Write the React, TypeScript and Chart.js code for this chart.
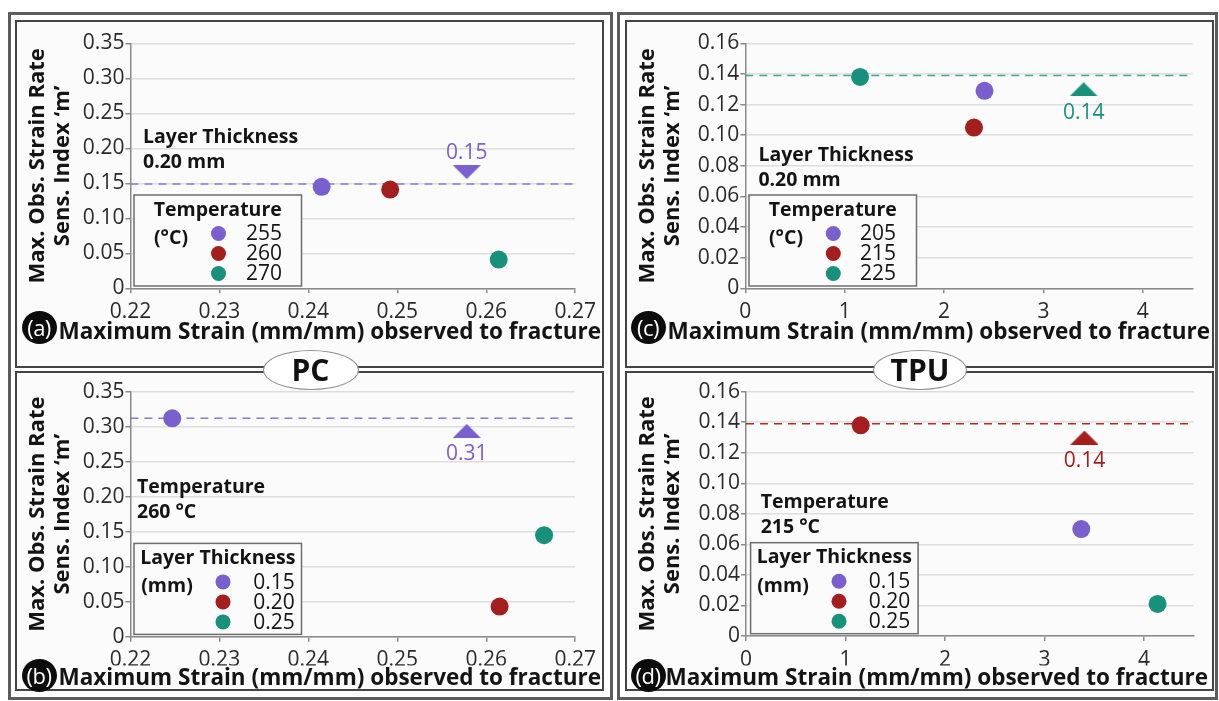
import React, { useEffect, useRef } from "react";
import { Chart, registerables } from "chart.js";

Chart.register(...registerables);

// ---------------- data ----------------
// (a) PC, layer thickness 0.20 mm — series: printing temperature (°C)
const aSeries = ["255", "260", "270"];
const aStrain = [0.2415, 0.2492, 0.2614];
const aM = [0.145, 0.141, 0.041];
const aMeanM = 0.149;
const aMarker = [0.2578, 0.166];
const aMarkerText = "0.15";

// (b) PC, temperature 260 °C — series: layer thickness (mm)
const bSeries = ["0.15", "0.20", "0.25"];
const bStrain = [0.2247, 0.2615, 0.2665];
const bM = [0.312, 0.043, 0.145];
const bMeanM = 0.312;
const bMarker = [0.2578, 0.294];
const bMarkerText = "0.31";

// (c) TPU, layer thickness 0.20 mm — series: printing temperature (°C)
const cSeries = ["205", "215", "225"];
const cStrain = [2.407, 2.301, 1.155];
const cM = [0.129, 0.105, 0.138];
const cMeanM = 0.139;
const cMarker = [3.405, 0.13];
const cMarkerText = "0.14";

// (d) TPU, temperature 215 °C — series: layer thickness (mm)
const dSeries = ["0.15", "0.20", "0.25"];
const dStrain = [3.37, 1.153, 4.137];
const dM = [0.07, 0.138, 0.021];
const dMeanM = 0.139;
const dMarker = [3.402, 0.13];
const dMarkerText = "0.14";

// axis ranges [min, max, step]
const pcXRange = [0.22, 0.27, 0.01];
const pcYRange = [0, 0.35, 0.05];
const tpuXRange = [0, 4.5, 1];
const tpuYRange = [0, 0.16, 0.02];

const xTitle = "Maximum Strain (mm/mm) observed to fracture";
const yTitle = ["Max. Obs. Strain Rate", "Sens. Index \u2018m\u2019"];

// ---------------- styles ----------------
const FONT = "'Open Sans', 'DejaVu Sans', sans-serif";
const BG = "#fbfbfb";
const PURPLE = "#7a5fcf";
const RED = "#a41e1e";
const TEAL = "#17917b";
const SERIES_COLORS = [PURPLE, RED, TEAL];
const LINE_PURPLE = "#8a78dc";
const LINE_RED = "#b02c2c";
const LINE_TEAL = "#3fa68f";
const TEXT = "#141414";

function triangleImage(color: string, down: boolean) {
  const c = document.createElement("canvas");
  c.width = 28;
  c.height = 14;
  const g = c.getContext("2d")!;
  g.fillStyle = color;
  g.beginPath();
  if (down) {
    g.moveTo(0, 0);
    g.lineTo(28, 0);
    g.lineTo(14, 14);
  } else {
    g.moveTo(14, 0);
    g.lineTo(28, 14);
    g.lineTo(0, 14);
  }
  g.closePath();
  g.fill();
  return c;
}

type Panel = {
  key: string;
  badge: string;
  cx: number;
  cy: number;
  cw: number;
  ch: number;
  series: string[];
  strain: number[];
  m: number[];
  meanM: number;
  meanColor: string;
  marker: number[];
  markerDown: boolean;
  markerColor: string;
  markerText: string;
  markerDy: number;
  xr: number[];
  yr: number[];
  note: string[];
  noteDx: number;
  noteDy: number;
  legendTitle: string;
  legendUnit: string;
  lg: { dx: number; unitDx: number; pointDx: number; labelDx: number };
  pad: { top: number; right: number; bottom: number };
  yW: number;
  yRW: number;
  xH: number;
  badgeX: number;
  badgeY: number;
};

const panels: Panel[] = [
  {
    key: "a", badge: "(a)", cx: 17, cy: 22, cw: 585, ch: 344,
    series: aSeries, strain: aStrain, m: aM, meanM: aMeanM, meanColor: LINE_PURPLE,
    marker: aMarker, markerDown: true, markerColor: PURPLE, markerText: aMarkerText, markerDy: -20,
    xr: pcXRange, yr: pcYRange,
    note: ["Layer Thickness", "0.20 mm"], noteDx: 12.6, noteDy: 94.5,
    legendTitle: "Temperature", legendUnit: "(\u00B0C)",
    lg: { dx: 3.6, unitDx: 37, pointDx: 84.5, labelDx: 130 },
    pad: { top: 21.3, right: 1, bottom: 19.5 }, yW: 113.4, yRW: 23, xH: 31.2,
    badgeX: 39, badgeY: 327,
  },
  {
    key: "b", badge: "(b)", cx: 17, cy: 373, cw: 585, ch: 322,
    series: bSeries, strain: bStrain, m: bM, meanM: bMeanM, meanColor: LINE_PURPLE,
    marker: bMarker, markerDown: false, markerColor: PURPLE, markerText: bMarkerText, markerDy: 22.6,
    xr: pcXRange, yr: pcYRange,
    note: ["Temperature", "260 \u00B0C"], noteDx: 6.6, noteDy: 96,
    legendTitle: "Layer Thickness", legendUnit: "(mm)",
    lg: { dx: 3.6, unitDx: 33, pointDx: 89, labelDx: 140 },
    pad: { top: 18.7, right: 1, bottom: 2.5 }, yW: 113.4, yRW: 23, xH: 28.8,
    badgeX: 39, badgeY: 675,
  },
  {
    key: "c", badge: "(c)", cx: 627, cy: 22, cw: 585, ch: 344,
    series: cSeries, strain: cStrain, m: cM, meanM: cMeanM, meanColor: LINE_TEAL,
    marker: cMarker, markerDown: false, markerColor: TEAL, markerText: cMarkerText, markerDy: 23,
    xr: tpuXRange, yr: tpuYRange,
    note: ["Layer Thickness", "0.20 mm"], noteDx: 13.1, noteDy: 112.5,
    legendTitle: "Temperature", legendUnit: "(\u00B0C)",
    lg: { dx: 3.7, unitDx: 37, pointDx: 84.3, labelDx: 129 },
    pad: { top: 21.3, right: 2, bottom: 19.5 }, yW: 118.3, yRW: 17.5, xH: 31.2,
    badgeX: 648, badgeY: 327,
  },
  {
    key: "d", badge: "(d)", cx: 627, cy: 373, cw: 585, ch: 322,
    series: dSeries, strain: dStrain, m: dM, meanM: dMeanM, meanColor: LINE_RED,
    marker: dMarker, markerDown: false, markerColor: RED, markerText: dMarkerText, markerDy: 22.3,
    xr: tpuXRange, yr: tpuYRange,
    note: ["Temperature", "215 \u00B0C"], noteDx: 14.7, noteDy: 111,
    legendTitle: "Layer Thickness", legendUnit: "(mm)",
    lg: { dx: 4.6, unitDx: 32.4, pointDx: 88.4, labelDx: 139 },
    pad: { top: 18.7, right: 4, bottom: 2.5 }, yW: 119, yRW: 14.3, xH: 29.5,
    badgeX: 648, badgeY: 675,
  },
];

const decorPlugin = {
  id: "panelDecor",
  afterDatasetsDraw(chart: any, _args: any, opts: any) {
    const { ctx, chartArea: ca } = chart;
    ctx.save();
    // annotation
    ctx.fillStyle = TEXT;
    ctx.font = `bold 19.5px ${FONT}`;
    ctx.textAlign = "left";
    ctx.textBaseline = "middle";
    (opts.note as string[]).forEach((line, i) => {
      ctx.fillText(line, ca.left + opts.noteDx, ca.top + opts.noteDy + i * 25);
    });
    // legend box
    const bw = 167.5;
    const bh = 91;
    const bx = ca.left + opts.lg.dx;
    const by = ca.bottom - 2.3 - bh;
    ctx.fillStyle = BG;
    ctx.fillRect(bx, by, bw, bh);
    ctx.strokeStyle = "#6e6e6e";
    ctx.lineWidth = 1.5;
    ctx.strokeRect(bx, by, bw, bh);
    ctx.fillStyle = TEXT;
    ctx.font = `bold 19.5px ${FONT}`;
    ctx.textAlign = "center";
    ctx.fillText(opts.legendTitle, bx + bw / 2, by + 15);
    ctx.fillText(opts.legendUnit, bx + opts.lg.unitDx, by + 43.5);
    for (let i = 0; i < 3; i++) {
      const ds = chart.data.datasets[i];
      const yy = by + 38.5 + 20 * i;
      ctx.fillStyle = ds.backgroundColor;
      ctx.beginPath();
      ctx.arc(bx + opts.lg.pointDx, yy, 7.5, 0, Math.PI * 2);
      ctx.fill();
      ctx.fillStyle = TEXT;
      ctx.font = `21px ${FONT}`;
      ctx.fillText(ds.label, bx + opts.lg.labelDx, yy + 1);
    }
    // marker value label
    const meta = chart.getDatasetMeta(4);
    const pt = meta.data[0];
    if (pt) {
      ctx.fillStyle = opts.markerColor;
      ctx.font = `21px ${FONT}`;
      ctx.textAlign = "center";
      ctx.fillText(opts.markerText, pt.x, pt.y + opts.markerDy + 1);
    }
    ctx.restore();
  },
};

function fmt(v: number) {
  return v === 0 ? "0" : Number(v).toFixed(2);
}

function buildConfig(p: Panel): any {
  const datasets: any[] = p.series.map((label, i) => ({
    label,
    data: [{ x: p.strain[i], y: p.m[i] }],
    backgroundColor: SERIES_COLORS[i],
    borderWidth: 0,
    pointRadius: 9,
    pointHoverRadius: 9,
    order: 1,
  }));
  datasets.push({
    label: "mean",
    data: [
      { x: p.xr[0], y: p.meanM },
      { x: p.xr[1], y: p.meanM },
    ],
    showLine: true,
    borderColor: p.meanColor,
    borderDash: [8, 6],
    borderWidth: 1.6,
    pointRadius: 0,
    order: 5,
  });
  datasets.push({
    label: "mean marker",
    data: [{ x: p.marker[0], y: p.marker[1] }],
    pointStyle: triangleImage(p.markerColor, p.markerDown),
    pointRadius: 14,
    order: 0,
  });
  const isPC = p.xr[1] < 1;
  return {
    type: "scatter",
    data: { datasets },
    plugins: [decorPlugin],
    options: {
      responsive: false,
      maintainAspectRatio: false,
      animation: false,
      events: [],
      layout: { padding: { left: 0, top: p.pad.top, right: p.pad.right, bottom: p.pad.bottom } },
      scales: {
        x: {
          type: "linear",
          min: p.xr[0],
          max: p.xr[1],
          ticks: {
            stepSize: p.xr[2],
            includeBounds: false,
            autoSkip: false,
            maxRotation: 0,
            padding: 6,
            color: "#2a2a2a",
            font: { family: FONT, size: 21 },
            callback: (v: number) => (isPC ? Number(v).toFixed(2) : String(Math.round(v))),
          },
          grid: { drawOnChartArea: false, drawTicks: true, tickLength: 5, tickColor: "#8a8a8a", lineWidth: 1.5 },
          border: { color: "#8a8a8a", width: 1.5 },
          afterFit: (s: any) => {
            s.height = p.xH;
          },
        },
        y: {
          type: "linear",
          min: p.yr[0],
          max: p.yr[1],
          ticks: {
            stepSize: p.yr[2],
            padding: 1,
            color: "#2a2a2a",
            font: { family: FONT, size: 21 },
            callback: (v: number) => fmt(v),
          },
          grid: { color: "#dedede", lineWidth: 1.5, tickLength: 5, tickColor: "#8a8a8a" },
          border: { color: "#8a8a8a", width: 1.5 },
          title: {
            display: true,
            text: yTitle,
            color: TEXT,
            font: { family: FONT, size: 22, weight: "bold", lineHeight: 25 / 22 },
            padding: { top: 8.5, bottom: 0 },
          },
          afterFit: (s: any) => {
            s.width = p.yW;
          },
        },
        yR: {
          type: "linear",
          position: "right",
          display: true,
          grid: { display: false, drawTicks: false },
          ticks: { display: false },
          border: { display: false },
          afterFit: (s: any) => {
            s.width = p.yRW;
          },
        },
      },
      plugins: {
        legend: { display: false },
        tooltip: { enabled: false },
        title: {
          display: true,
          position: "bottom",
          align: "end",
          text: xTitle,
          color: TEXT,
          padding: 0,
          font: { family: FONT, size: 22.5, weight: "bold", lineHeight: 1.2 },
        },
        panelDecor: {
          note: p.note,
          noteDx: p.noteDx,
          noteDy: p.noteDy,
          legendTitle: p.legendTitle,
          legendUnit: p.legendUnit,
          lg: p.lg,
          markerColor: p.markerColor,
          markerText: p.markerText,
          markerDy: p.markerDy,
        },
      },
    },
  };
}

function ChartPanel({ p }: { p: Panel }) {
  const ref = useRef<HTMLCanvasElement>(null);
  useEffect(() => {
    const chart = new Chart(ref.current!, buildConfig(p));
    return () => chart.destroy();
  }, []);
  return (
    <canvas
      ref={ref}
      width={p.cw}
      height={p.ch}
      style={{ position: "absolute", left: p.cx, top: p.cy, width: p.cw, height: p.ch }}
    />
  );
}

function Badge({ text, x, y }: { text: string; x: number; y: number }) {
  return (
    <div
      style={{
        position: "absolute",
        left: x - 17.5,
        top: y - 16.5,
        width: 35,
        height: 33,
        borderRadius: "50%",
        background: "#0c0c0c",
        color: "#ffffff",
        fontFamily: FONT,
        fontSize: 22,
        lineHeight: "32px",
        textAlign: "center",
        letterSpacing: -0.5,
      }}
    >
      {text}
    </div>
  );
}

function Oval({ text, x, y, w }: { text: string; x: number; y: number; w: number }) {
  return (
    <div
      style={{
        position: "absolute",
        left: x - w / 2,
        top: y - 20,
        width: w,
        height: 40,
        boxSizing: "border-box",
        borderRadius: "50%",
        border: "1.2px solid #8f8f8f",
        background: "#ffffff",
        color: "#111",
        fontFamily: FONT,
        fontWeight: 700,
        fontSize: 30,
        lineHeight: "38px",
        textAlign: "center",
      }}
    >
      {text}
    </div>
  );
}

const box = (left: number, top: number, width: number, height: number, border: string, bg: string) => ({
  position: "absolute" as const,
  left,
  top,
  width,
  height,
  boxSizing: "border-box" as const,
  border,
  background: bg,
});

export default function App() {
  return (
    <div
      style={{
        position: "fixed",
        left: 0,
        top: 0,
        width: 1219,
        height: 701,
        background: "#ffffff",
        overflow: "hidden",
      }}
    >
      <div style={box(8, 12, 605, 688, "3px solid #5c5c5c", "#ffffff")} />
      <div style={box(617, 12, 601, 688, "3px solid #5c5c5c", "#ffffff")} />
      <div style={box(15, 20, 589, 348, "2px solid #444", BG)} />
      <div style={box(15, 371, 589, 320, "2px solid #444", BG)} />
      <div style={box(625, 20, 589, 348, "2px solid #444", BG)} />
      <div style={box(625, 371, 589, 320, "2px solid #444", BG)} />
      {panels.map((p) => (
        <ChartPanel key={p.key} p={p} />
      ))}
      {panels.map((p) => (
        <Badge key={"b" + p.key} text={p.badge} x={p.badgeX} y={p.badgeY} />
      ))}
      <Oval text="PC" x={310.5} y={370} w={96} />
      <Oval text="TPU" x={920} y={370} w={94} />
    </div>
  );
}
